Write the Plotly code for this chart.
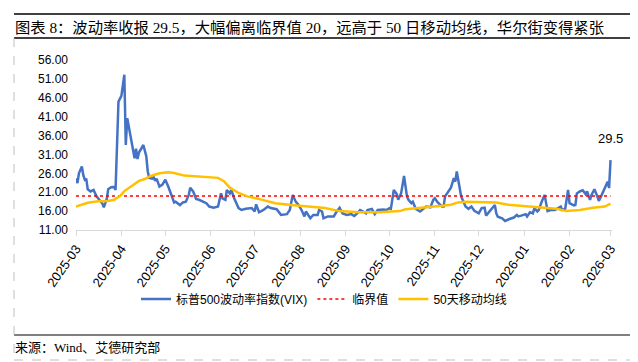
import plotly.graph_objects as go

# ---------------- data ----------------
vix_dates = [
    "2025-03-01", "2025-03-02", "2025-03-03", "2025-03-05", "2025-03-06", "2025-03-07", "2025-03-08",
    "2025-03-09", "2025-03-11", "2025-03-13", "2025-03-15", "2025-03-17", "2025-03-19", "2025-03-20",
    "2025-03-22", "2025-03-23", "2025-03-25", "2025-03-27", "2025-03-28", "2025-03-30", "2025-04-01",
    "2025-04-03", "2025-04-04", "2025-04-05", "2025-04-07", "2025-04-09", "2025-04-10", "2025-04-11",
    "2025-04-12", "2025-04-13", "2025-04-16", "2025-04-18", "2025-04-19", "2025-04-20", "2025-04-22",
    "2025-04-23", "2025-04-24", "2025-04-25", "2025-04-27", "2025-04-29", "2025-05-01", "2025-05-03",
    "2025-05-05", "2025-05-07", "2025-05-08", "2025-05-11", "2025-05-13", "2025-05-15", "2025-05-17",
    "2025-05-18", "2025-05-20", "2025-05-22", "2025-05-24", "2025-05-27", "2025-05-29", "2025-05-31",
    "2025-06-03", "2025-06-06", "2025-06-08", "2025-06-09", "2025-06-11", "2025-06-12", "2025-06-14",
    "2025-06-15", "2025-06-17", "2025-06-20", "2025-06-22", "2025-06-25", "2025-06-29", "2025-07-01",
    "2025-07-02", "2025-07-04", "2025-07-07", "2025-07-10", "2025-07-12", "2025-07-16", "2025-07-19",
    "2025-07-23", "2025-07-25", "2025-07-27", "2025-07-29", "2025-07-31", "2025-08-02", "2025-08-04",
    "2025-08-05", "2025-08-08", "2025-08-10", "2025-08-13", "2025-08-14", "2025-08-16", "2025-08-17",
    "2025-08-20", "2025-08-24", "2025-08-26", "2025-08-28", "2025-08-30", "2025-09-02", "2025-09-05",
    "2025-09-07", "2025-09-09", "2025-09-11", "2025-09-13", "2025-09-15", "2025-09-16", "2025-09-19",
    "2025-09-21", "2025-09-23", "2025-09-27", "2025-09-29", "2025-10-01", "2025-10-02", "2025-10-04",
    "2025-10-06", "2025-10-07", "2025-10-09", "2025-10-11", "2025-10-13", "2025-10-14", "2025-10-16",
    "2025-10-17", "2025-10-19", "2025-10-22", "2025-10-24", "2025-10-26", "2025-10-29", "2025-10-31",
    "2025-11-01", "2025-11-03", "2025-11-06", "2025-11-07", "2025-11-08", "2025-11-10", "2025-11-12",
    "2025-11-14", "2025-11-15", "2025-11-16", "2025-11-17", "2025-11-18", "2025-11-19", "2025-11-22",
    "2025-11-24", "2025-11-26", "2025-11-28", "2025-12-01", "2025-12-03", "2025-12-05", "2025-12-06",
    "2025-12-09", "2025-12-12", "2025-12-13", "2025-12-14", "2025-12-17", "2025-12-19", "2025-12-22",
    "2025-12-25", "2025-12-27", "2025-12-28", "2025-12-30", "2026-01-02", "2026-01-03", "2026-01-05",
    "2026-01-07", "2026-01-08", "2026-01-10", "2026-01-11", "2026-01-13", "2026-01-15", "2026-01-17",
    "2026-01-19", "2026-01-22", "2026-01-24", "2026-01-26", "2026-01-27", "2026-01-29", "2026-01-30",
    "2026-01-31", "2026-02-01", "2026-02-04", "2026-02-05", "2026-02-06", "2026-02-08", "2026-02-10",
    "2026-02-12", "2026-02-13", "2026-02-14", "2026-02-15", "2026-02-16", "2026-02-18", "2026-02-20",
    "2026-02-21", "2026-02-23", "2026-02-24", "2026-02-26", "2026-02-27", "2026-02-28", "2026-03-01",
]
vix_values = [
    24.7, 23.4, 26.0, 27.8, 25.5, 24.3, 24.6,
    21.8, 21.2, 21.6, 19.9, 19.0, 18.0, 17.0,
    19.2, 21.8, 22.3, 22.4, 21.6, 45.0, 46.5,
    52.1, 33.5, 40.6, 36.5, 31.8, 30.0, 32.5,
    29.8, 31.5, 33.5, 30.5, 26.5, 24.8, 24.6,
    25.0, 24.0, 24.6, 22.5, 23.0, 24.3, 22.5,
    20.5, 18.3, 18.5, 17.6, 18.3, 18.5, 20.3,
    22.2, 21.2, 19.2, 19.0, 18.5, 18.1, 17.2,
    16.9, 17.2, 20.7, 19.4, 19.0, 21.6, 20.7,
    21.6, 19.4, 16.8, 16.3, 16.6, 16.8, 15.9,
    17.8, 15.7, 16.3, 17.2, 16.8, 16.5, 15.0,
    15.2, 16.3, 20.3, 18.5, 17.6, 16.3, 14.6,
    15.9, 14.1, 15.0, 15.0, 16.3, 15.9, 14.1,
    14.6, 14.6, 15.9, 16.9, 15.4, 15.0, 15.2,
    14.7, 15.4, 16.3, 15.9, 15.4, 16.3, 16.6,
    15.2, 16.3, 16.4, 16.3, 16.8, 16.6, 21.6,
    20.5, 19.0, 20.7, 25.3, 19.9, 19.0, 18.1,
    18.5, 16.6, 15.9, 16.6, 17.2, 17.0, 19.0,
    19.4, 18.3, 17.2, 17.2, 19.9, 21.2, 22.2,
    24.7, 23.8, 26.5, 23.8, 22.1, 19.9, 17.2,
    16.6, 17.2, 16.1, 15.4, 16.8, 16.9, 14.8,
    16.3, 17.6, 15.4, 14.5, 14.1, 13.4, 13.9,
    14.3, 15.0, 14.6, 14.8, 15.2, 14.6, 15.7,
    15.4, 16.8, 15.9, 16.3, 18.5, 20.3, 16.0,
    16.3, 16.3, 16.8, 17.2, 16.3, 16.6, 19.0,
    21.6, 18.1, 17.5, 17.6, 20.7, 21.2, 21.5,
    20.5, 21.2, 20.0, 19.0, 20.3, 21.8, 19.9,
    18.7, 20.3, 21.3, 22.9, 23.8, 22.1, 29.5,
]

ma_dates = [
    "2025-03-01", "2025-03-09", "2025-03-16", "2025-03-23", "2025-03-27", "2025-03-31", "2025-04-03",
    "2025-04-07", "2025-04-10", "2025-04-13", "2025-04-17", "2025-04-21", "2025-04-27", "2025-05-03",
    "2025-05-07", "2025-05-14", "2025-05-21", "2025-05-30", "2025-06-06", "2025-06-10", "2025-06-14",
    "2025-06-20", "2025-06-26", "2025-07-05", "2025-07-15", "2025-07-26", "2025-08-06", "2025-08-18",
    "2025-08-28", "2025-09-10", "2025-09-24", "2025-10-08", "2025-10-12", "2025-10-26", "2025-11-06",
    "2025-11-12", "2025-11-17", "2025-11-22", "2025-12-04", "2025-12-13", "2025-12-21", "2026-01-02",
    "2026-01-14", "2026-01-23", "2026-01-30", "2026-02-08", "2026-02-17", "2026-02-25", "2026-03-01",
]
ma_values = [
    17.2, 18.2, 18.6, 18.7, 19.0, 20.0, 21.3,
    22.5, 23.2, 24.0, 24.5, 25.3, 26.0, 26.3,
    26.1, 25.4, 25.2, 25.0, 24.8, 23.9, 22.2,
    20.8, 19.9, 19.1, 18.1, 17.6, 17.2, 16.8,
    16.0, 15.7, 15.7, 16.0, 16.5, 16.9, 17.4,
    17.7, 18.3, 18.5, 18.5, 18.3, 17.7, 17.3,
    17.0, 16.6, 16.0, 16.3, 16.9, 17.2, 18.0,
]

critical_value = 20
y_ticks = [11, 16, 21, 26, 31, 36, 41, 46, 51, 56]
x_ticks = ["2025-03-01", "2025-04-01", "2025-05-01", "2025-06-01", "2025-07-01", "2025-08-01",
           "2025-09-01", "2025-10-01", "2025-11-01", "2025-12-01", "2026-01-01", "2026-02-01",
           "2026-03-01"]
x_tick_labels = ["2025-03", "2025-04", "2025-05", "2025-06", "2025-07", "2025-08", "2025-09",
                 "2025-10", "2025-11", "2025-12", "2026-01", "2026-02", "2026-03"]

title_text = "图表 8：波动率收报 29.5，大幅偏离临界值 20，远高于 50 日移动均线，华尔街变得紧张"
source_text = "来源：Wind、艾德研究部"

# ---------------- figure ----------------
W, H = 638, 362
L, R, T, B = 68, 34, 52, 140
PW, PH = W - L - R, H - T - B


def px(x):
    return (x - L) / PW


def py(y):
    return (H - B - y) / PH


SANS = "Liberation Sans, Noto Sans CJK SC, sans-serif"
SERIF = "Liberation Serif, Noto Sans CJK SC, serif"

fig = go.Figure()
fig.add_trace(go.Scatter(
    x=vix_dates, y=vix_values, mode="lines", name="标普500波动率指数(VIX)",
    line=dict(color="#4472C4", width=2.5)))
fig.add_trace(go.Scatter(
    x=[vix_dates[0], vix_dates[-1]], y=[critical_value, critical_value], mode="lines",
    name="临界值", line=dict(color="#FF0000", width=1.5, dash="dot")))
fig.add_trace(go.Scatter(
    x=ma_dates, y=ma_values, mode="lines", name="50天移动均线",
    line=dict(color="#FFC000", width=2.5)))

fig.add_annotation(x=vix_dates[-1], y=vix_values[-1], text=f"{vix_values[-1]}", showarrow=False,
                   yshift=22, font=dict(size=13, color="#000000", family=SANS))

shapes = []
dark = dict(color="#000000", width=1.5)
grey_dash = dict(color="#BFBFBF", width=1, dash="dash")
shapes.append(dict(type="line", xref="paper", yref="paper", x0=px(6), x1=px(630), y0=py(6), y1=py(6), line=dark))
shapes.append(dict(type="line", xref="paper", yref="paper", x0=px(6), x1=px(630), y0=py(30), y1=py(30), line=dark))
shapes.append(dict(type="line", xref="paper", yref="paper", x0=px(6), x1=px(630), y0=py(327), y1=py(327),
                   line=dict(color="#000000", width=1.2)))
shapes.append(dict(type="line", xref="paper", yref="paper", x0=px(6), x1=px(6), y0=py(30), y1=py(352), line=grey_dash))
shapes.append(dict(type="line", xref="paper", yref="paper", x0=px(629), x1=px(629), y0=py(30), y1=py(352), line=grey_dash))
shapes.append(dict(type="line", xref="paper", yref="paper", x0=px(6), x1=px(629), y0=py(352), y1=py(352), line=grey_dash))

fig.add_annotation(xref="paper", yref="paper", x=px(5), y=py(19), xanchor="left", yanchor="middle",
                   text=title_text, showarrow=False, font=dict(size=15.3, color="#000000", family=SERIF))
fig.add_annotation(xref="paper", yref="paper", x=px(5), y=py(339), xanchor="left", yanchor="middle",
                   text=source_text, showarrow=False, font=dict(size=13, color="#000000", family=SERIF))

fig.update_layout(
    width=W, height=H,
    margin=dict(l=L, r=R, t=T, b=B, pad=0),
    paper_bgcolor="white", plot_bgcolor="white",
    font=dict(family=SANS, size=12, color="#000000"),
    shapes=shapes,
    showlegend=True,
    legend=dict(orientation="h", x=px(316), xanchor="center", y=py(291), yanchor="middle",
                font=dict(size=12, family=SANS), itemwidth=30, tracegroupgap=0,
                bgcolor="rgba(0,0,0,0)"),
    xaxis=dict(
        type="date", range=["2025-03-01", "2026-03-02"],
        tickmode="array", tickvals=x_ticks, ticktext=x_tick_labels, tickangle=-55,
        tickfont=dict(size=13, family=SANS, color="#000000"),
        showgrid=False, zeroline=False, showline=True, linecolor="#D9D9D9", linewidth=1,
        ticks="outside", ticklen=5, tickcolor="#D9D9D9", tickwidth=1),
    yaxis=dict(
        range=[11, 56], tickmode="array", tickvals=y_ticks,
        ticktext=[f"{v:.2f}" for v in y_ticks],
        tickfont=dict(size=12, family=SANS, color="#000000"),
        showgrid=False, zeroline=False, showline=False, ticks="", ticklabelstandoff=7),
)

fig.write_html("out.html")
